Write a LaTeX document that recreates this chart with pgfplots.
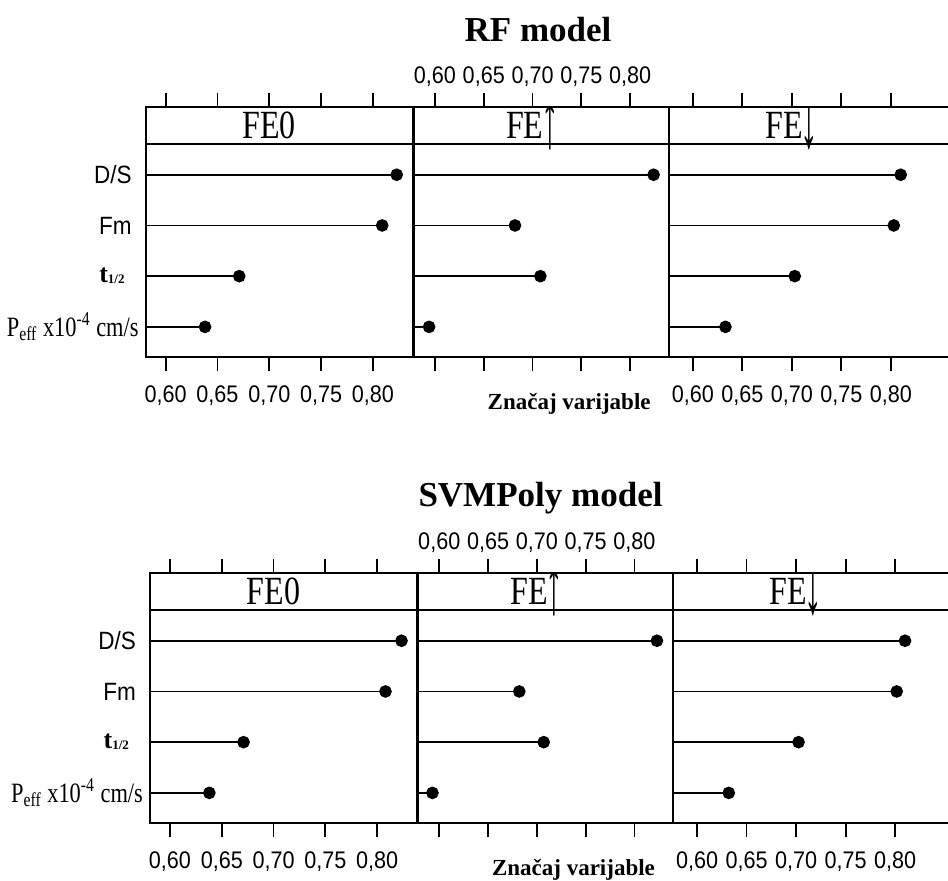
\documentclass[border=0pt]{standalone}
\usepackage{fontspec}
\setmainfont{Liberation Serif}
\newfontfamily\serifc[FakeStretch=0.8]{Liberation Serif}
\newfontfamily\sansc[FakeStretch=0.9]{Liberation Sans}
\usepackage{pgfplots}
\pgfplotsset{compat=1.18}
\newcommand\up{\kern-1pt\raisebox{-4.5pt}{\scalebox{1.1}[2.1]{↑}}}
\newcommand\down{\kern-1pt\raisebox{-4.5pt}{\scalebox{1.1}[2.1]{↓}}}
\pgfplotsset{
  panel/.style={
    scale only axis, height=125pt,
    anchor=south west,
    ymin=0.4, ymax=5.33,
    ytick={1,2,3,4}, yticklabels={},
    ytick style={draw=none},
    xtick={0.60,0.65,0.70,0.75,0.80},
    xticklabels={},
    tick align=outside, major tick length=7pt,
    xtick style={black, line width=0.9pt},
    axis line style={black, line width=0.9pt},
  },
  botlab/.style={xticklabels={{0,60},{0,65},{0,70},{0,75},{0,80}},
    x tick label style={font=\sansc\fontsize{12}{13}\selectfont, yshift=-3.5pt}},
  toplab/.style={xticklabel pos=right, xticklabels={{0,60},{0,65},{0,70},{0,75},{0,80}},
    x tick label style={font=\sansc\fontsize{12}{13}\selectfont, yshift=0pt},
    xlabel={Značaj varijable},
    xlabel style={at={(axis description cs:0.61,0)}, anchor=base, yshift=-26pt,
      font=\bfseries\fontsize{11.5}{12}\selectfont}},
  rowlab/.style={
    yticklabels={{\serifc\fontsize{14}{15}\selectfont P\textsubscript{eff} x10\textsuperscript{-4} cm/s},
      {\bfseries\fontsize{13}{14}\selectfont t\raisebox{-0.5pt}{\fontsize{6.5}{7}\selectfont 1/2}\kern7pt},
      {\sansc\fontsize{12.5}{13}\selectfont Fm\kern3.5pt},
      {\sansc\fontsize{12.5}{13}\selectfont D/S\kern3.5pt}},
    y tick label style={anchor=east, inner sep=0pt, xshift=3.5pt}},
  lolli/.style={xcomb, black, line width=0.9pt, mark=*, mark size=2.7pt,
    mark options={fill=black, solid}},
}
\newcommand\strip[1]{%
  \draw[line width=0.9pt] (rel axis cs:0,0.8519) -- (rel axis cs:1,0.8519);
  \node[font=\serifc\fontsize{20}{21}\selectfont, anchor=base, inner sep=0pt] at (axis cs:0.70,4.72) {#1};
}
\begin{document}
\begin{tikzpicture}
% ---------------- RF model ----------------
\begin{axis}[panel, rowlab, botlab, at={(73pt,261.35pt)}, width=134pt, xmin=0.581, xmax=0.8397]
\addplot[lolli] coordinates {(0.823,4) (0.809,3) (0.671,2) (0.638,1)};
\strip{FE0}
\end{axis}
\begin{axis}[panel, toplab, at={(206.5pt,261.35pt)}, width=128pt, xmin=0.5775, xmax=0.8398]
\addplot[lolli] coordinates {(0.824,4) (0.682,3) (0.708,2) (0.594,1)};
\strip{FE\up}
\end{axis}
\begin{axis}[panel, botlab, at={(334.5pt,261.35pt)}, width=141.6pt, xmin=0.576, xmax=0.862]
\addplot[lolli] coordinates {(0.810,4) (0.803,3) (0.703,2) (0.633,1)};
\strip{FE\down}
\end{axis}
\node[font=\bfseries\fontsize{17.5}{20}\selectfont, anchor=base] at (269pt,419.15pt) {RF model};
% ---------------- SVMPoly model ----------------
\begin{axis}[panel, rowlab, botlab, at={(75.15pt,28.35pt)}, width=134pt, xmin=0.581, xmax=0.8397]
\addplot[lolli] coordinates {(0.8235,4) (0.808,3) (0.671,2) (0.638,1)};
\strip{FE0}
\end{axis}
\begin{axis}[panel, toplab, at={(208.65pt,28.35pt)}, width=128pt, xmin=0.5775, xmax=0.8398]
\addplot[lolli] coordinates {(0.823,4) (0.682,3) (0.707,2) (0.593,1)};
\strip{FE\up}
\end{axis}
\begin{axis}[panel, botlab, at={(336.65pt,28.35pt)}, width=141.6pt, xmin=0.576, xmax=0.862]
\addplot[lolli] coordinates {(0.810,4) (0.8016,3) (0.7025,2) (0.632,1)};
\strip{FE\down}
\end{axis}
\node[font=\bfseries\fontsize{17.5}{20}\selectfont, anchor=base] at (270.25pt,186.65pt) {SVMPoly model};
\pgfresetboundingbox
\useasboundingbox (0,0) rectangle (474pt,440pt);
\end{tikzpicture}
\end{document}
